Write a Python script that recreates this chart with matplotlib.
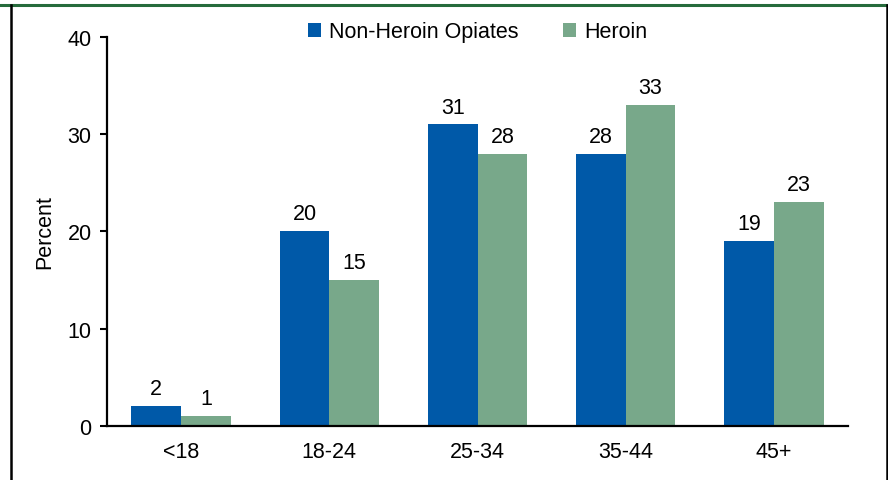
import matplotlib.pyplot as plt
import numpy as np
from matplotlib.lines import Line2D

plt.rcParams['font.family'] = ['Liberation Sans', 'DejaVu Sans']

age_groups = ["<18", "18-24", "25-34", "35-44", "45+"]
non_heroin = [2, 20, 31, 28, 19]
heroin = [1, 15, 28, 33, 23]

blue = "#0059A8"
green = "#78A88A"
fs = 15.5


def draw_chart():
    fig = plt.figure(figsize=(8.88, 4.81), dpi=100)
    ax = fig.add_axes([0.1205, 0.1125, 0.8345, 0.8085])

    x = np.arange(len(age_groups))
    w = 0.335
    b1 = ax.bar(x - w / 2, non_heroin, w, color=blue, label="Non-Heroin Opiates")
    b2 = ax.bar(x + w / 2, heroin, w, color=green, label="Heroin")

    for bars, vals in ((b1, non_heroin), (b2, heroin)):
        for r, v in zip(bars, vals):
            ax.annotate(str(v), (r.get_x() + r.get_width() / 2, v),
                        xytext=(0, 5), textcoords="offset points",
                        ha="center", va="bottom", fontsize=fs)

    ax.set_xlim(-0.5, len(age_groups) - 0.5)
    ax.set_ylim(0, 40)
    ax.set_yticks([0, 10, 20, 30, 40])
    ax.set_xticks(x)
    ax.set_xticklabels(age_groups)
    ax.tick_params(axis="x", length=0, pad=11, labelsize=fs)
    ax.tick_params(axis="y", length=5, width=1.5, pad=6, labelsize=fs)
    ax.set_ylabel("Percent", fontsize=fs, labelpad=9)

    for s in ("top", "right"):
        ax.spines[s].set_visible(False)
    for s in ("left", "bottom"):
        ax.spines[s].set_linewidth(1.6)

    ax.legend(loc="center", bbox_to_anchor=(0.5, 1.013), ncol=2,
              frameon=False, fontsize=fs, handlelength=0.6, handleheight=0.6,
              handletextpad=0.35, columnspacing=2.1)

    # surrounding box: green rule on top, black sides
    fig.add_artist(Line2D([0, 1], [1 - 6 / 481] * 2, color="#266B3C", lw=2.2))
    fig.add_artist(Line2D([10.5 / 888] * 2, [0, 1 - 6 / 481], color="black", lw=1.8))
    fig.add_artist(Line2D([887 / 888] * 2, [0, 1 - 6 / 481], color="black", lw=1.8))

    fig.savefig("out.png", dpi=100)


if __name__ == '__main__':
    draw_chart()
